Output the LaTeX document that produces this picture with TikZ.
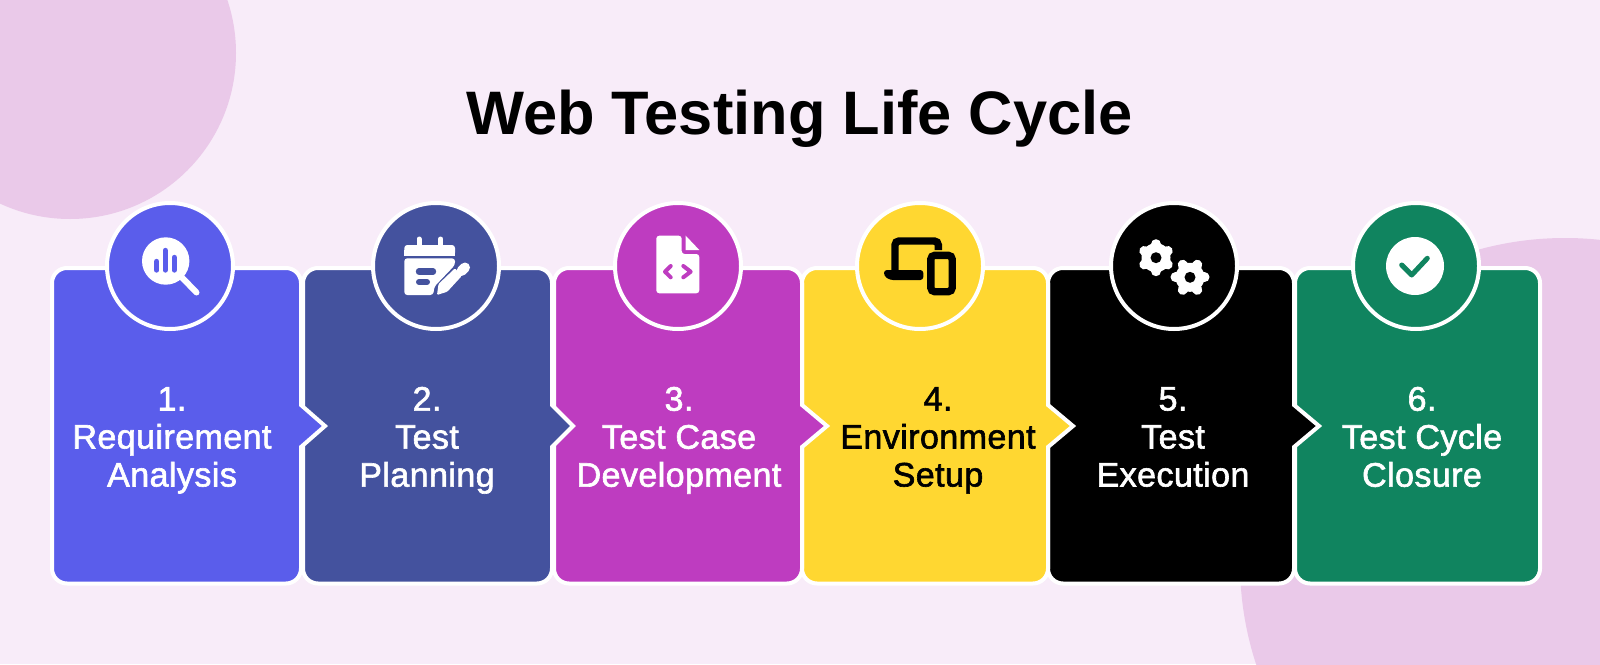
\documentclass[tikz,border=0pt]{standalone}
\usepackage{fontspec}
\setmainfont{Liberation Sans}
\newfontfamily\stepfont[FakeBold=1.8,LetterSpace=1.3]{Liberation Sans}
\definecolor{pagebg}{HTML}{F8ECF9}
\definecolor{blobc}{HTML}{EAC9E9}
\definecolor{stepa}{HTML}{5A5DEB}
\definecolor{stepb}{HTML}{44529E}
\definecolor{stepc}{HTML}{BE3CC0}
\definecolor{stepd}{HTML}{FFD731}
\definecolor{stepe}{HTML}{000000}
\definecolor{stepf}{HTML}{10845F}
\tikzset{
  boxline/.style={draw=white, line width=2pt, miter limit=10},
  badge/.style={circle, draw=white, line width=2pt, minimum size=63pt, inner sep=0pt, outer sep=0pt},
  steptext/.style={align=center, font=\stepfont\fontsize{17}{19}\selectfont, text=white, inner sep=0pt, execute at end node=\strut},
  iconcut/.style={line width=#1, line cap=round, line join=round}
}
\newcommand{\stepshape}[4]{
  \filldraw[boxline, fill=#4] ({(#1+#2)/2},268) [rounded corners=7.5pt] -- (#2,268) [sharp corners] -- (#2,405)
    -- (#3,426) -- (#2,447) [rounded corners=7.5pt] -- (#2,583.5) -- (#1,583.5) -- (#1,268) -- cycle;
}
\newcommand{\gearshape}[4]{
  \fill[white] (#1,#2) circle (14.5);
  \foreach \ang in {0,60,...,300}
    \draw[white, line width=5pt, line cap=round] ([shift={(#1,#2)}] #3+\ang:11) -- ([shift={(#1,#2)}] #3+\ang:#4);
  \fill[black] (#1,#2) circle (5.5);
}
\begin{document}
\begin{tikzpicture}[x=0.5pt, y=-0.5pt]
  \useasboundingbox (0,0) rectangle (1600,664);
  \clip (0,0) rectangle (1600,664);
  \fill[pagebg] (0,0) rectangle (1600,664);
  \fill[blobc] (70,53) circle (166);
  \fill[blobc] (1565,563) circle (325);

  \node[anchor=base, inner sep=0pt, font=\bfseries\fontsize{30.7}{34}\selectfont] (title) at (799.5,134) {Web Testing Life Cycle};

  \filldraw[boxline, fill=stepf] (1417,268) [rounded corners=7.5pt] -- (1540,268) -- (1540,583.5) -- (1295,583.5) -- (1295,268) -- cycle;
  \stepshape{1048}{1294}{1319}{stepe}
  \stepshape{802}{1048}{1073}{stepd}
  \stepshape{554}{802}{827}{stepc}
  \stepshape{303}{552}{573}{stepb}
  \stepshape{52}{301}{325}{stepa}

  \node[badge, fill=stepa] (a1) at (170,266) {};
  \node[badge, fill=stepb] (a2) at (436,266) {};
  \node[badge, fill=stepc] (a3) at (678,266) {};
  \node[badge, fill=stepd] (a4) at (920,266) {};
  \node[badge, fill=stepe] (a5) at (1174,266) {};
  \node[badge, fill=stepf] (a6) at (1416,266) {};

  \node[steptext] (t1) at (172,442.5) {1.\\Requirement\\Analysis};
  \node[steptext] (t2) at (427,442.5) {2.\\Test\\Planning};
  \node[steptext] (t3) at (679,442.5) {3.\\Test Case\\Development};
  \node[steptext, text=black] (t4) at (938,442.5) {4.\\Environment\\Setup};
  \node[steptext] (t5) at (1173,442.5) {5.\\Test\\Execution};
  \node[steptext] (t6) at (1422,442.5) {6.\\Test Cycle\\Closure};

  \fill[white] (165.7,261) circle (23.7);
  \draw[white, iconcut=3pt] (182,277.5) -- (196.5,292.5);
  \draw[stepa, iconcut=2.7pt] (156.7,261.5) -- (156.7,270);
  \draw[stepa, iconcut=2.7pt] (165.3,250.5) -- (165.3,270);
  \draw[stepa, iconcut=2.7pt] (174.3,257.5) -- (174.3,270);

  \fill[white, rounded corners=1.5pt] (404.3,245) -- (455,245) -- (455,255.7) -- (404.3,255.7) -- cycle;
  \fill[white] (404.3,250) rectangle (455,255.7);
  \fill[white, rounded corners=1.5pt] (404.3,258.3) -- (455,258.3) -- (455,265) -- (434.3,286.7) -- (433.3,295) -- (404.3,295) -- cycle;
  \draw[white, iconcut=2.5pt] (419,239) -- (419,246);
  \draw[white, iconcut=2.5pt] (440.7,239) -- (440.7,246);
  \draw[stepb, iconcut=3.2pt] (419,271.5) -- (433,271.5);
  \draw[stepb, iconcut=3pt] (419,282) -- (427,282);
  \fill[white, rounded corners=0.6pt] (437,295) -- (438.5,284) -- (455,268.3) -- (461.7,276) -- (447.3,291.7) -- cycle;
  \draw[white, iconcut=5pt] (461.5,271) -- (465,267.5);

  \fill[white, rounded corners=1.5pt] (656.3,235.7) -- (681.7,235.7) -- (681.7,254) -- (699.3,254) -- (699.3,293.3) -- (656.3,293.3) -- cycle;
  \fill[white] (685.7,235.7) -- (699.3,250) -- (685.7,250) -- cycle;
  \draw[stepc, iconcut=2pt] (670.7,266) -- (665,271.7) -- (670.7,277.3);
  \draw[stepc, iconcut=2pt] (683.3,266) -- (690.7,271.7) -- (683.3,277.3);

  \draw[black, line width=3.7pt, rounded corners=2pt] (895,272) -- (895,241) -- (938.3,241) -- (938.3,250);
  \fill[black, rounded corners=1.5pt] (884,270) -- (923.3,270) -- (923.3,280) -- (890,280) -- (884,276) -- cycle;
  \draw[black, line width=3.7pt, rounded corners=2pt] (930.8,255.3) rectangle (952.2,291.7);

  \gearshape{1156}{257.7}{30}{13.5}
  \gearshape{1190}{277.3}{0}{14.5}

  \fill[white] (1415,266) circle (29);
  \draw[stepf, iconcut=2.5pt] (1401.7,265) -- (1411.7,275) -- (1427.3,258.3);
\end{tikzpicture}
\end{document}
